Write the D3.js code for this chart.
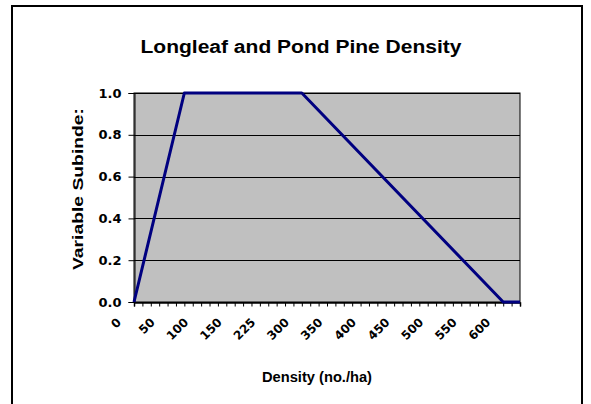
<!DOCTYPE html>
<html lang="en">
<head>
  <meta charset="utf-8">
  <title>Longleaf and Pond Pine Density</title>
  <script src="https://cdn.jsdelivr.net/npm/d3@7/dist/d3.min.js"></script>
  <style>
    body { margin: 0; background: #fff; }
    text { font-family: "Liberation Sans", Arial, sans-serif; font-weight: bold; fill: #000; }
  </style>
</head>
<body>
  <svg id="chart" width="591" height="404"></svg>
  <script>
    // category axis: 47 categories, every 4th one labelled
    var tickLabels = ["0", "50", "100", "150", "225", "300", "350", "400", "450", "500", "550", "600"];
    var categoryCount = 47;
    var labelStep = 4;

    // vertices of the subindex line (category index -> value)
    var pointCategory = [0, 6, 20, 44, 46];
    var pointValue = [0, 1, 1, 0, 0];

    var yTicks = [0, 0.2, 0.4, 0.6, 0.8, 1.0];

    var svg = d3.select("#chart");

    // outer chart frame
    svg.append("rect")
      .attr("x", 12).attr("y", 6)
      .attr("width", 570).attr("height", 420)
      .attr("fill", "#fff")
      .attr("stroke", "#000")
      .attr("stroke-width", 2);

    var plot = { left: 134, right: 520, top: 93, bottom: 302 };

    var x = d3.scaleLinear()
      .domain([0, categoryCount - 1])
      .range([plot.left, plot.right]);
    var y = d3.scaleLinear()
      .domain([0, 1])
      .range([plot.bottom, plot.top]);

    // plot area
    svg.append("rect")
      .attr("x", plot.left).attr("y", plot.top)
      .attr("width", plot.right - plot.left)
      .attr("height", plot.bottom - plot.top)
      .attr("fill", "#c0c0c0")
      .attr("stroke", "#000")
      .attr("stroke-width", 1);

    // gridlines
    svg.append("g").selectAll("line")
      .data(yTicks)
      .enter().append("line")
      .attr("x1", plot.left).attr("x2", plot.right)
      .attr("y1", function (d) { return Math.round(y(d)) + 0.5; })
      .attr("y2", function (d) { return Math.round(y(d)) + 0.5; })
      .attr("stroke", "#000")
      .attr("stroke-width", 1);

    // y axis
    var yAxis = d3.axisLeft(y)
      .tickValues(yTicks)
      .tickSize(6)
      .tickPadding(7)
      .tickFormat(d3.format(".1f"));
    var gy = svg.append("g")
      .attr("transform", "translate(" + (plot.left + 0.5) + ",0)")
      .call(yAxis);
    gy.select(".domain").attr("stroke", "#000");
    gy.selectAll(".tick line").attr("stroke", "#000");
    gy.selectAll(".tick text")
      .style("font-family", '"DejaVu Sans", sans-serif')
      .style("font-weight", "bold")
      .style("font-size", "13px");

    // x axis: ticks on every category
    var xAxis = d3.axisBottom(x)
      .tickValues(d3.range(categoryCount))
      .tickSize(4)
      .tickFormat("");
    var gx = svg.append("g")
      .attr("transform", "translate(0," + (plot.bottom + 0.5) + ")")
      .call(xAxis);
    gx.select(".domain").attr("stroke", "#000").attr("stroke-width", 1.5);
    gx.selectAll(".tick line").attr("stroke", "#000");

    // rotated category labels
    svg.append("g").selectAll("text")
      .data(tickLabels)
      .enter().append("text")
      .attr("transform", function (d, i) {
        return "translate(" + (x(i * labelStep) - 12) + "," + (plot.bottom + 21) + ") rotate(-45)";
      })
      .attr("text-anchor", "end")
      .style("font-family", '"DejaVu Sans", sans-serif')
      .style("font-size", "12px")
      .text(function (d) { return d; });

    // the subindex line
    var line = d3.line()
      .x(function (d) { return x(d[0]); })
      .y(function (d) { return y(d[1]); });
    svg.append("path")
      .datum(d3.zip(pointCategory, pointValue))
      .attr("d", line)
      .attr("fill", "none")
      .attr("stroke", "#000080")
      .attr("stroke-width", 3)
      .attr("stroke-linejoin", "round");

    // titles
    svg.append("text")
      .attr("x", 301).attr("y", 53)
      .attr("text-anchor", "middle")
      .attr("textLength", 321)
      .attr("lengthAdjust", "spacingAndGlyphs")
      .style("font-size", "18px")
      .text("Longleaf and Pond Pine Density");

    svg.append("text")
      .attr("transform", "translate(83,189) rotate(-90)")
      .attr("text-anchor", "middle")
      .attr("textLength", 162)
      .attr("lengthAdjust", "spacingAndGlyphs")
      .style("font-size", "15px")
      .text("Variable Subinde:");

    svg.append("text")
      .attr("x", 317).attr("y", 382)
      .attr("text-anchor", "middle")
      .attr("textLength", 110)
      .attr("lengthAdjust", "spacingAndGlyphs")
      .style("font-size", "14px")
      .text("Density (no./ha)");
  </script>
</body>
</html>
